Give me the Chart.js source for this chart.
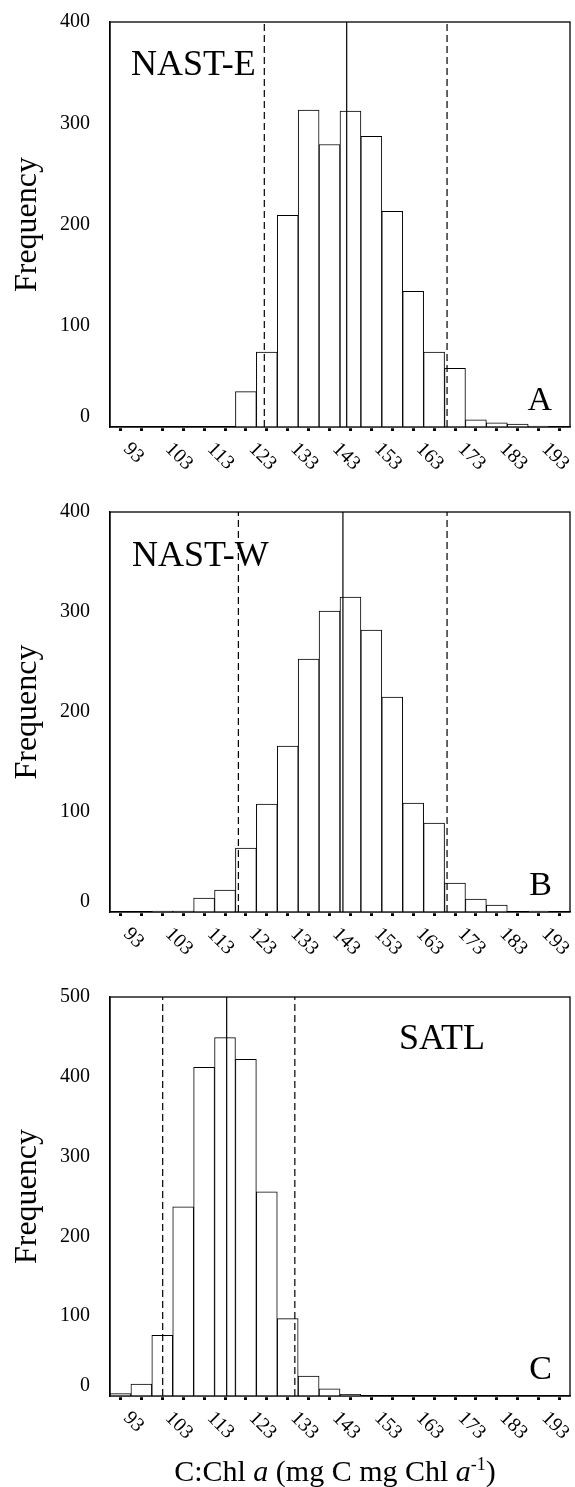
<!DOCTYPE html>
<html>
<head>
<meta charset="utf-8">
<script src="https://cdn.jsdelivr.net/npm/chart.js@4.4.1/dist/chart.umd.min.js"></script>
<style>
  body { margin: 0; background: #fff; }
  #wrap { position: relative; width: 575px; height: 1487px; }
  canvas { position: absolute; left: 0; }
  #xtitle {
    position: absolute; left: 110px; width: 450px; top: 1457px;
    text-align: center; color: #000;
    font: 30px/28px 'Liberation Serif', 'Times New Roman', serif;
  }
  #xtitle sup { font-size: 0.6em; line-height: 0; }
</style>
</head>
<body>
<div id="wrap">
  <canvas id="chartA" width="575" height="490" style="top:0"></canvas>
  <canvas id="chartB" width="575" height="485" style="top:490px"></canvas>
  <canvas id="chartC" width="575" height="512" style="top:975px"></canvas>
  <div id="xtitle">C:Chl <i>a</i> (mg C mg Chl <i>a</i><sup>-1</sup>)</div>
</div>
<script>
// bin centres of the C:Chl a histograms (5 unit bins)
const binCenters = [93, 98, 103, 108, 113, 118, 123, 128, 133, 138, 143,
    148, 153, 158, 163, 168, 173, 178, 183, 188, 193, 198];
const tickLabels = [93, 103, 113, 123, 133, 143, 153, 163, 173, 183, 193];

const nastE = [0, 0, 0, 0, 0, 0, 35, 74, 209, 313, 279, 312, 287, 213, 134, 74, 58, 7, 4, 3, 1, 0];
const nastW = [0, 0, 1, 1, 14, 22, 64, 108, 166, 253, 301, 315, 282, 215, 109, 89, 29, 13, 7, 0, 1, 0];
const satl = [3, 15, 76, 237, 412, 449, 422, 256, 97, 25, 9, 2, 0, 0, 0, 0, 0, 0, 0, 0, 0, 0];

// vertical reference lines per panel (A, B, C)
const meanValues = [147.1, 146.2, 118.4];
const lowerValues = [127.4, 121.2, 103.1];
const upperValues = [171.1, 171.1, 134.7];
const yMax = [400, 400, 500];

const serif = "'Liberation Serif', 'Times New Roman', serif";

const panelDecor = {
    id: 'panelDecor',
    afterDraw(chart, args, opts) {
        const { ctx, chartArea: a } = chart;
        const xs = chart.scales.x;
        ctx.save();
        ctx.strokeStyle = '#000';
        ctx.lineWidth = 1.3;
        ctx.strokeRect(a.left, a.top, a.right - a.left, a.bottom - a.top);

        // rotated tick labels, every second bin
        ctx.fillStyle = '#000';
        ctx.font = '20px ' + serif;
        ctx.textAlign = 'left';
        ctx.textBaseline = 'middle';
        xs.ticks.forEach((t, i) => {
            const v = binCenters[i];
            if (!tickLabels.includes(v)) return;
            ctx.save();
            ctx.translate(xs.getPixelForTick(i) + 6, xs.top + 19);
            ctx.rotate(Math.PI / 4);
            ctx.fillText(String(v), 0, 0);
            ctx.restore();
        });

        ctx.textBaseline = 'alphabetic';
        ctx.font = '36px ' + serif;
        ctx.fillText(opts.name, a.left + opts.nameDx, a.top + opts.nameDy);
        ctx.font = '34px ' + serif;
        ctx.textAlign = 'right';
        ctx.fillText(opts.letter, a.right - 18, a.bottom - 17);
        ctx.restore();
    }
};

function refLine(v, top, dash) {
    return {
        type: 'line',
        xAxisID: 'xv',
        data: [{ x: v, y: 0 }, { x: v, y: top }],
        borderColor: '#000',
        borderWidth: 1.2,
        borderDash: dash,
        pointRadius: 0,
        fill: false,
        order: 0
    };
}

function buildPanel(id, counts, k, name, nameDx, nameDy, letter, padTop, axisHeight) {
    const top = yMax[k];
    return new Chart(document.getElementById(id), {
        type: 'bar',
        data: {
            labels: binCenters,
            datasets: [
                {
                    data: counts,
                    backgroundColor: '#fff',
                    borderColor: '#000',
                    borderWidth: 1,
                    grouped: false,
                    categoryPercentage: 1,
                    barPercentage: 1,
                    order: 1
                },
                refLine(lowerValues[k], top, [7, 4]),
                refLine(meanValues[k], top, []),
                refLine(upperValues[k], top, [7, 4])
            ]
        },
        options: {
            responsive: false,
            animation: false,
            devicePixelRatio: 1,
            layout: { padding: { top: padTop, right: 5, left: 0, bottom: 0 } },
            plugins: {
                legend: { display: false },
                tooltip: { enabled: false },
                panelDecor: { name: name, nameDx: nameDx, nameDy: nameDy, letter: letter }
            },
            scales: {
                x: {
                    type: 'category',
                    offset: true,
                    border: { color: '#000', width: 1.3 },
                    grid: {
                        display: true,
                        drawOnChartArea: false,
                        drawTicks: true,
                        offset: false,
                        tickLength: 4,
                        tickWidth: 3,
                        tickColor: '#000',
                        tickBorderDash: [0, 1, 3, 10]
                    },
                    ticks: { display: false },
                    afterFit: s => { s.height = axisHeight; }
                },
                xv: {
                    type: 'linear',
                    display: false,
                    offset: false,
                    bounds: 'data',
                    min: 90.5,
                    max: 200.5,
                    position: 'bottom'
                },
                y: {
                    min: 0,
                    max: top,
                    border: { color: '#000', width: 1.3 },
                    grid: { display: false },
                    ticks: {
                        stepSize: 100,
                        color: '#000',
                        padding: 12,
                        font: { family: serif, size: 20, lineHeight: 1 },
                        callback: v => v === 0 ? ['0', ''] : String(v)
                    },
                    title: {
                        display: true,
                        text: 'Frequency',
                        color: '#000',
                        font: { family: serif, size: 32 },
                        padding: { top: 8, bottom: 0 }
                    },
                    afterFit: s => { s.width = 110; }
                }
            }
        },
        plugins: [panelDecor]
    });
}

buildPanel('chartA', nastE, 0, 'NAST-E', 21, 53, 'A', 18, 63);
buildPanel('chartB', nastW, 1, 'NAST-W', 22, 54, 'B', 13, 63);
buildPanel('chartC', satl, 2, 'SATL', 289, 52, 'C', 11, 91);
</script>
</body>
</html>
